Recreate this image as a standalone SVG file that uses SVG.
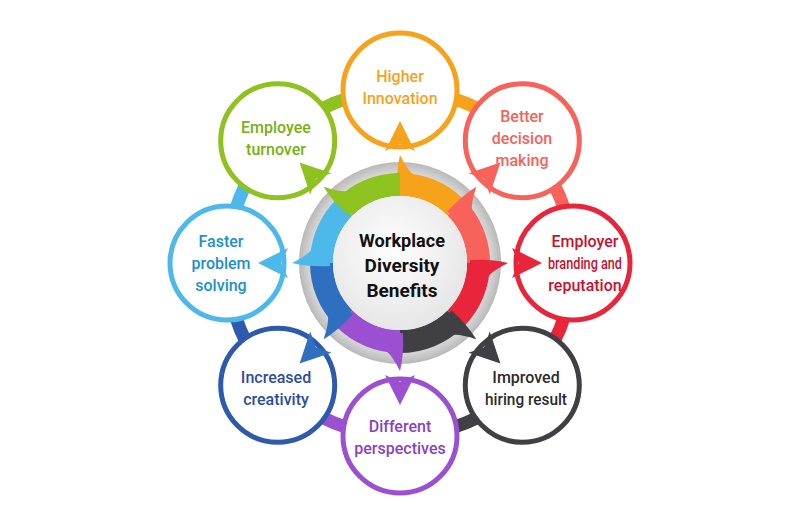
<svg xmlns="http://www.w3.org/2000/svg" width="800" height="520" viewBox="0 0 800 520">
<defs>
<radialGradient id="gr" cx="50%" cy="50%" r="50%"><stop offset="0.8" stop-color="#f2f2f2"/><stop offset="1" stop-color="#b8b8b8"/></radialGradient>
<radialGradient id="wc" cx="45%" cy="40%" r="60%"><stop offset="0" stop-color="#ffffff"/><stop offset="1" stop-color="#e6e6e6"/></radialGradient>
<path id="sec" d="M0,-90 A90,90 0 0 1 63.64,-63.64 L47.38,-47.38 A67,67 0 0 0 0,-67 Z"/>
<path id="blade" d="M-3,-70 Q-4,-92 0,-108 Q8,-92 14,-88 L6,-70 Z"/>
<polygon id="head" points="0,-142 -15,-112 0,-119 15,-112"/>
</defs>
<style>
.n circle{fill:#fff;stroke-width:5}
.n text{font-family:Roboto,"Liberation Sans",sans-serif;font-size:16px;font-weight:500;text-anchor:middle}
.ring path{fill:none;stroke-width:13}
</style>
<rect width="800" height="520" fill="#fff"/>
<g id="connectors" class="ring">
<path d="M400,90 A173,173 0 0 1 522.3,140.7" stroke="#F7A21B"/>
<path d="M522.3,140.7 A173,173 0 0 1 573,263" stroke="#F7625A"/>
<path d="M573,263 A173,173 0 0 1 522.3,385.3" stroke="#E8253A"/>
<path d="M522.3,385.3 A173,173 0 0 1 400,436" stroke="#3F3F44"/>
<path d="M400,436 A173,173 0 0 1 277.7,385.3" stroke="#9B4FD1"/>
<path d="M277.7,385.3 A173,173 0 0 1 227,263" stroke="#2E5AAE"/>
<path d="M227,263 A173,173 0 0 1 277.7,140.7" stroke="#4DB8EA"/>
<path d="M277.7,140.7 A173,173 0 0 1 400,90" stroke="#8DC21F"/>
</g>
<g class="n" id="n0"><circle cx="400" cy="90" r="57" stroke="#F7A21B"/><text fill="#F7A21B" x="400" y="82">Higher</text><text fill="#F7A21B" x="400" y="104">Innovation</text></g>
<g class="n" id="n1"><circle cx="522.3" cy="140.7" r="57" stroke="#F7625A"/><text fill="#F7625A" x="522" y="122">Better</text><text fill="#F7625A" x="522" y="144">decision</text><text fill="#F7625A" x="522" y="166">making</text></g>
<g class="n" id="n2"><circle cx="573" cy="263" r="57" stroke="#E8253A"/><text fill="#C8102E" x="585" y="247">Employer</text><text fill="#C8102E" x="585" y="269" textLength="74" lengthAdjust="spacingAndGlyphs">branding and</text><text fill="#C8102E" x="585" y="291">reputation</text></g>
<g class="n" id="n3"><circle cx="522.3" cy="385.3" r="57" stroke="#3F3F44"/><text fill="#2b2b2b" x="526" y="383">Improved</text><text fill="#2b2b2b" x="526" y="405" textLength="82" lengthAdjust="spacingAndGlyphs">hiring result</text></g>
<g class="n" id="n4"><circle cx="400" cy="436" r="57" stroke="#9B4FD1"/><text fill="#8A3FC4" x="400" y="432">Different</text><text fill="#8A3FC4" x="400" y="454">perspectives</text></g>
<g class="n" id="n5"><circle cx="277.7" cy="385.3" r="57" stroke="#2E5AAE"/><text fill="#2E4C9E" x="276" y="383">Increased</text><text fill="#2E4C9E" x="276" y="405">creativity</text></g>
<g class="n" id="n6"><circle cx="227" cy="263" r="57" stroke="#4DB8EA"/><text fill="#1E90C8" x="221" y="247">Faster</text><text fill="#1E90C8" x="221" y="269">problem</text><text fill="#1E90C8" x="221" y="291">solving</text></g>
<g class="n" id="n7"><circle cx="277.7" cy="140.7" r="57" stroke="#8DC21F"/><text fill="#76B111" x="276" y="133">Employee</text><text fill="#76B111" x="276" y="155">turnover</text></g>
<g id="center">
<circle cx="400" cy="263" r="101" fill="url(#gr)"/>
<g transform="translate(400 263)">
<g fill="#F7A21B"><use href="#sec"/><use href="#blade"/><use href="#head"/></g>
<g fill="#F7625A" transform="rotate(45)"><use href="#sec"/><use href="#blade"/><use href="#head"/></g>
<g fill="#E8253A" transform="rotate(90)"><use href="#sec"/><use href="#blade"/><use href="#head"/></g>
<g fill="#3F3F44" transform="rotate(135)"><use href="#sec"/><use href="#blade"/><use href="#head"/></g>
<g fill="#9B4FD1" transform="rotate(180)"><use href="#sec"/><use href="#blade"/><use href="#head"/></g>
<g fill="#2E6FC0" transform="rotate(225)"><use href="#sec"/><use href="#blade"/><use href="#head"/></g>
<g fill="#4DB8EA" transform="rotate(270)"><use href="#sec"/><use href="#blade"/><use href="#head"/></g>
<g fill="#8DC21F" transform="rotate(315)"><use href="#sec"/><use href="#blade"/><use href="#head"/></g>
</g>
<circle cx="400" cy="263" r="67" fill="url(#wc)"/>
<g font-family="Roboto,'Liberation Sans',sans-serif" font-size="19" font-weight="700" text-anchor="middle" fill="#111">
<text x="402" y="247" textLength="86" lengthAdjust="spacingAndGlyphs">Workplace</text><text x="402" y="272">Diversity</text><text x="402" y="297">Benefits</text></g>
</g>
</svg>
